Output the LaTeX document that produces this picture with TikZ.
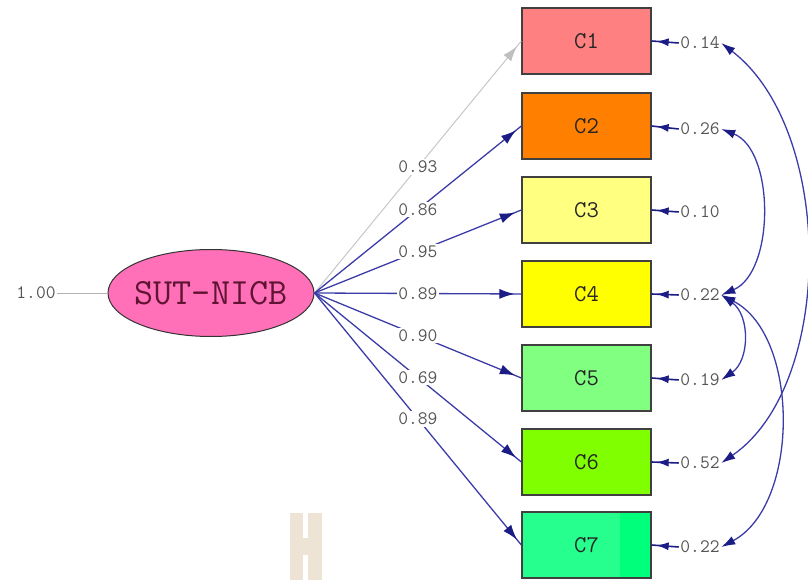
\documentclass[tikz,border=0pt]{standalone}
\usetikzlibrary{arrows.meta,shapes.geometric,decorations.markings}
\definecolor{navy}{HTML}{3C3CA8}
\definecolor{tipc}{HTML}{1C1C86}
\definecolor{cA}{HTML}{FF8080}
\definecolor{cB}{HTML}{FF8000}
\definecolor{cC}{HTML}{FFFF80}
\definecolor{cD}{HTML}{FFFF00}
\definecolor{cE}{HTML}{80FF80}
\definecolor{cF}{HTML}{80FF00}
\definecolor{cG}{HTML}{26FF8E}
\definecolor{cGd}{HTML}{00FF7A}
\definecolor{pinkfill}{HTML}{FF70B8}
\definecolor{maroon}{HTML}{5E1432}
\definecolor{beige}{HTML}{EDE4D6}
\definecolor{labgray}{HTML}{555555}
\begin{document}
\begin{tikzpicture}[x=1pt,y=-1pt,
  obs/.style={draw=black!75, line width=1.3pt, minimum width=129pt, minimum height=66pt, inner sep=0pt,
    font=\ttfamily\fontsize{24}{24}\selectfont, text=black!85},
  lat/.style={ellipse, draw=black!80, line width=1pt, fill=pinkfill, minimum width=206pt, minimum height=87pt,
    inner sep=0pt},
  lattext/.style={inner sep=0pt, font=\ttfamily\fontsize{37}{37}\selectfont, text=maroon},
  lab/.style={fill=white, inner sep=1.5pt, font=\ttfamily\fontsize{19}{19}\selectfont, text=labgray},
  elab/.style={inner sep=1.5pt, font=\ttfamily\fontsize{19}{19}\selectfont, text=labgray},
  load/.style={draw=navy, line width=1.3pt, postaction={decorate}, decoration={markings,
      mark=at position -7pt with {\arrow[tipc, line width=1pt]{Latex[length=15pt,width=10pt]}}}},
  loadg/.style={draw=black!22, line width=1pt, postaction={decorate}, decoration={markings,
      mark=at position -7pt with {\arrow[black!25, line width=1pt]{Latex[length=15pt,width=10pt]}}}},
  err/.style={draw=tipc, line width=1.6pt, postaction={decorate}, decoration={markings,
      mark=at position -5pt with {\arrow[tipc, line width=1pt]{Latex[length=12pt,width=8pt]}}}},
  cov/.style={draw=navy, line width=1.3pt, {Latex[length=14pt,width=9pt,color=tipc]}-{Latex[length=14pt,width=9pt,color=tipc]}}
]
\useasboundingbox (0,0) rectangle (808,580);

% watermark-like shape
\fill[beige] (290,513) rectangle (322,580);
\fill[white] (303,513) rectangle (308,538);
\fill[white] (303,555) rectangle (308,580);

% observed variables
\node[obs, fill=cA] (C1) at (586.5,41) {C1};
\node[obs, fill=cB] (C2) at (586.5,126) {C2};
\node[obs, fill=cC] (C3) at (586.5,210) {C3};
\node[obs, fill=cD] (C4) at (586.5,294) {C4};
\node[obs, fill=cE] (C5) at (586.5,378) {C5};
\node[obs, fill=cF] (C6) at (586.5,462) {C6};
\node[obs, fill=cG, path picture={\fill[cGd] ([xshift=-31pt]path picture bounding box.north east) rectangle (path picture bounding box.south east);}] (C7) at (586.5,545) {C7};

% latent variable
\node[lat] (L) at (211,293) {};
\node[lattext] (Lt) at (L.center) {SUT-NICB};
\node[elab] (v) at (36,293) {1.00};
\draw[draw=black!30, line width=1pt] (v.east) -- (L.west);

% loadings
\draw[loadg] (L.east) -- node[lab]{0.93} (C1.west);
\draw[load] (L.east) -- node[lab]{0.86} (C2.west);
\draw[load] (L.east) -- node[lab]{0.95} (C3.west);
\draw[load] (L.east) -- node[lab]{0.89} (C4.west);
\draw[load] (L.east) -- node[lab]{0.90} (C5.west);
\draw[load] (L.east) -- node[lab]{0.69} (C6.west);
\draw[load] (L.east) -- node[lab]{0.89} (C7.west);

% error variances
\node[elab] (e1) at (700,43) {0.14};
\node[elab] (e2) at (700,129) {0.26};
\node[elab] (e3) at (700,212) {0.10};
\node[elab] (e4) at (700,295) {0.22};
\node[elab] (e5) at (700,380) {0.19};
\node[elab] (e6) at (700,463) {0.52};
\node[elab] (e7) at (700,547) {0.22};
\foreach \i in {1,...,7} {\draw[err] (e\i.west) -- (C\i.east);}

% covariances
\draw[cov] (e1.east) .. controls (835,130) and (835,385) .. (e6.east);
\draw[cov] (e2.east) .. controls (775,150) and (775,272) .. (e4.east);
\draw[cov] (e4.east) .. controls (750,315) and (750,360) .. (e5.east);
\draw[cov] (e4.east) .. controls (800,335) and (800,505) .. (e7.east);
\end{tikzpicture}
\end{document}
